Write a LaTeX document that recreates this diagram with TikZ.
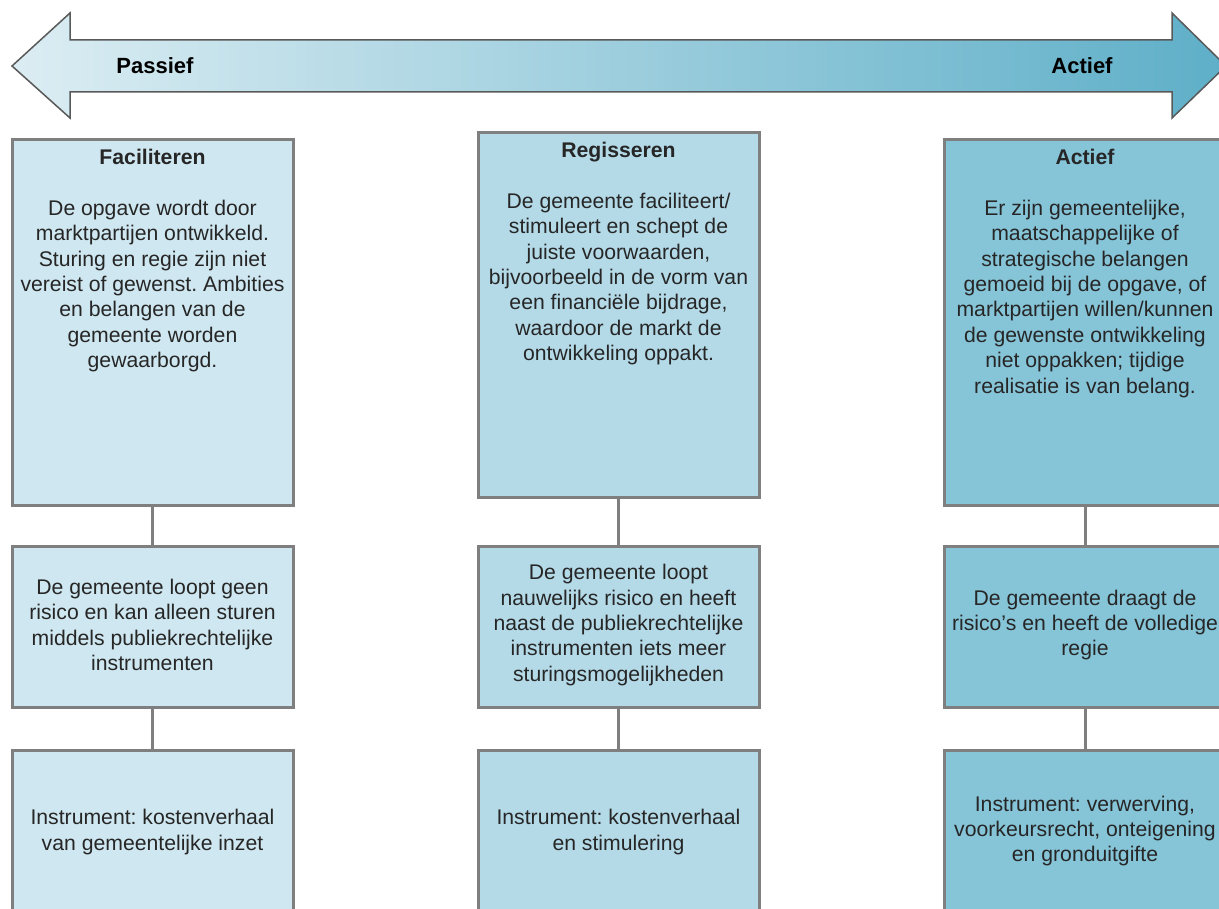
\documentclass[tikz,border=0pt]{standalone}
\usepackage{fontspec}
\setmainfont{Liberation Sans}
\usepackage{tikz}

\definecolor{rimgray}{HTML}{7F7F7F}
\definecolor{arrowleft}{HTML}{DCEDF3}
\definecolor{arrowright}{HTML}{5EAFC8}
\definecolor{colone}{HTML}{CFE7F0}
\definecolor{coltwo}{HTML}{B4DAE8}
\definecolor{colthree}{HTML}{86C4D8}
\definecolor{txtgray}{HTML}{262626}

\frenchspacing

\begin{document}
\begin{tikzpicture}[x=1pt,y=-1pt,
	box/.style={draw=rimgray,line width=3pt,minimum width=281pt,inner sep=0pt},
	tall/.style={box,minimum height=365pt},
	short/.style={box,minimum height=161pt},
	txt/.style={align=center,text=txtgray,inner sep=0pt,
		font=\fontsize{21.2}{25.4}\selectfont},
	link/.style={draw=rimgray,line width=3pt}]
	
	\clip (0,0) rectangle (1219,909);
	
	\draw[draw=rimgray!70!black,line width=1.5pt,left color=arrowleft,right color=arrowright]
		(12,66) -- (70,13) -- (70,40) -- (1172,40) -- (1172,13) -- (1226,66)
		-- (1172,118) -- (1172,92) -- (70,92) -- (70,118) -- cycle;
	\node[font=\fontsize{22}{25}\selectfont\bfseries] (passief) at (155,66) {Passief};
	\node[font=\fontsize{22}{25}\selectfont\bfseries] (actief) at (1082,66) {Actief};
	
	\node[tall,fill=colone]   (a1) at (152.5,322.5) {};
	\node[tall,fill=coltwo]   (b1) at (618.5,315) {};
	\node[tall,fill=colthree] (c1) at (1085,322.5) {};
	\node[short,fill=colone]   (a2) at (152.5,626.5) {};
	\node[short,fill=coltwo]   (b2) at (618.5,626.5) {};
	\node[short,fill=colthree] (c2) at (1085,626.5) {};
	\node[short,fill=colone]   (a3) at (152.5,830.5) {};
	\node[short,fill=coltwo]   (b3) at (618.5,830.5) {};
	\node[short,fill=colthree] (c3) at (1085,830.5) {};
	
	\path[link] (a1) -- (a2);
	\path[link] (a2) -- (a3);
	\path[link] (b1) -- (b2);
	\path[link] (b2) -- (b3);
	\path[link] (c1) -- (c2);
	\path[link] (c2) -- (c3);
	
	\node[txt,anchor=north] (a1t) at (152.5,149) {\textbf{Faciliteren}\\[25.4pt]
		De opgave wordt door\\ marktpartijen ontwikkeld.\\ Sturing en regie zijn niet\\
		vereist of gewenst. Ambities\\ en belangen van de\\ gemeente worden\\ gewaarborgd.};
	\node[txt,anchor=north] (b1t) at (618.5,142) {\textbf{Regisseren}\\[25.4pt]
		De gemeente faciliteert/\\ stimuleert en schept de\\ juiste voorwaarden,\\
		bijvoorbeeld in de vorm van\\ een financiële bijdrage,\\ waardoor de markt de\\ ontwikkeling oppakt.};
	\node[txt,anchor=north] (c1t) at (1085,149) {\textbf{Actief}\\[25.4pt]
		Er zijn gemeentelijke,\\ maatschappelijke of\\ strategische belangen\\
		gemoeid bij de opgave, of\\ marktpartijen willen/kunnen\\ de gewenste ontwikkeling\\
		niet oppakken; tijdige\\ realisatie is van belang.};
	
	\node[txt] (a2t) at (152.5,625) {De gemeente loopt geen\\ risico en kan alleen sturen\\
		middels publiekrechtelijke\\ instrumenten};
	\node[txt] (b2t) at (618.5,625) {De gemeente loopt\\ nauwelijks risico en heeft\\
		naast de publiekrechtelijke\\ instrumenten iets meer\\ sturingsmogelijkheden};
	\node[txt] (c2t) at (1085,625) {De gemeente draagt de\\ risico’s en heeft de volledige\\ regie};
	
	\node[txt] (a3t) at (152.5,832) {Instrument: kostenverhaal\\ van gemeentelijke inzet};
	\node[txt] (b3t) at (618.5,832) {Instrument: kostenverhaal\\ en stimulering};
	\node[txt] (c3t) at (1085,831) {Instrument: verwerving,\\ voorkeursrecht, onteigening\\ en gronduitgifte};
	
\end{tikzpicture}
\end{document}
